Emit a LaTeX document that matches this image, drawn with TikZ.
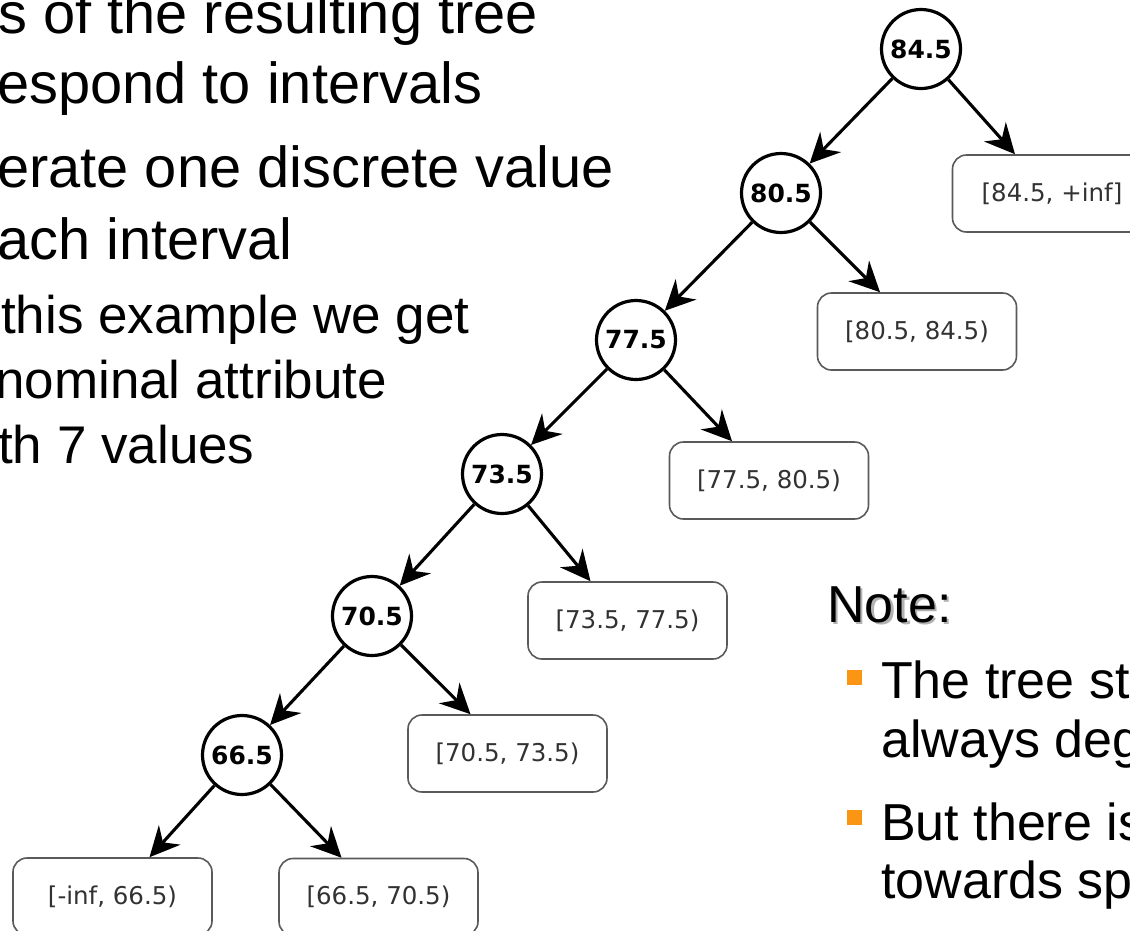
\documentclass[tikz,border=0pt]{standalone}
\usepackage{fontspec}
\setmainfont{Liberation Sans}
\newfontfamily\dejavu{DejaVu Sans}
\usetikzlibrary{arrows.meta}
\definecolor{bulletorange}{RGB}{250,150,20}
\definecolor{boxline}{RGB}{90,90,90}
\definecolor{boxtext}{RGB}{50,50,50}
\begin{document}
\begin{tikzpicture}[x=1pt,y=-1pt,
  split/.style={circle,draw=black,line width=3.2pt,minimum size=79pt,inner sep=0pt,
    font=\dejavu\bfseries\fontsize{25}{27}\selectfont},
  leaf/.style={rectangle,rounded corners=14pt,draw=boxline,line width=1.6pt,
    minimum width=199pt,minimum height=77pt,inner sep=0pt,text=boxtext,
    font=\dejavu\fontsize{24.5}{28}\selectfont},
  arr/.style={line width=3.1pt,-{Stealth[length=30pt,width=29pt,inset=10pt]}},
  big/.style={anchor=base west,inner sep=0pt,font=\fontsize{57.8}{60}\selectfont},
  mid/.style={anchor=base west,inner sep=0pt,font=\fontsize{52}{56}\selectfont},
  sub/.style={anchor=base west,inner sep=0pt,font=\fontsize{53}{56}\selectfont},
  bul/.style={rectangle,fill=bulletorange,inner sep=0pt,minimum size=15.5pt}
]
\useasboundingbox (0,0) rectangle (1130,930);
\clip (0,0) rectangle (1130,930);
\fill[white] (0,0) rectangle (1130,930);

% left text
\node[big] (t1) at (-2,33) {s of the resulting tree};
\node[big] (t2) at (-3,103) {espond to intervals};
\node[big] (t3) at (-3,187) {erate one discrete value};
\node[big] (t4) at (-3,259) {ach interval};
\node[sub] (t5) at (1,333) {this example we get};
\node[sub] (t6) at (-5,398) {nominal attribute};
\node[sub] (t7) at (-2,463) {th 7 values};

% split nodes
\node[split] (n845) at (921,49) {84.5};
\node[split] (n805) at (781,193) {80.5};
\node[split] (n775) at (636,340) {77.5};
\node[split] (n735) at (502,474) {73.5};
\node[split] (n705) at (372,616) {70.5};
\node[split] (n665) at (242,755) {66.5};

% leaves
\node[leaf] (l845) at (1052,193.5) {[84.5, +inf]};
\node[leaf] (l805) at (917,331.5) {[80.5, 84.5)};
\node[leaf] (l775) at (769,480.5) {[77.5, 80.5)};
\node[leaf] (l735) at (627.5,620.5) {[73.5, 77.5)};
\node[leaf] (l705) at (507.5,753.5) {[70.5, 73.5)};
\node[leaf] (l665) at (378.5,897) {[66.5, 70.5)};
\node[leaf] (linf) at (112.5,896.5) {[-inf, 66.5)};

% connectors
\draw[arr] (n845) -- (n805);
\draw[arr] (n845) -- ([xshift=-37pt]l845.north);
\draw[arr] (n805) -- (n775);
\draw[arr] (n805) -- ([xshift=-37pt]l805.north);
\draw[arr] (n775) -- (n735);
\draw[arr] (n775) -- ([xshift=-37pt]l775.north);
\draw[arr] (n735) -- (n705);
\draw[arr] (n735) -- ([xshift=-37pt]l735.north);
\draw[arr] (n705) -- (n665);
\draw[arr] (n705) -- ([xshift=-37pt]l705.north);
\draw[arr] (n665) -- ([xshift=37pt]linf.north);
\draw[arr] (n665) -- ([xshift=-37pt]l665.north);

% note
\node[mid,text=black!30] (noteshadow) at (829.5,624.5) {Note:};
\node[mid] (note) at (827,622) {Note:};
\node[bul] (b1) at (854.5,677.5) {};
\node[bul] (b2) at (854.5,817.5) {};
\node[mid] (s1) at (881,698) {The tree st};
\node[mid] (s2) at (881,757) {always deg};
\node[mid] (s3) at (881,840) {But there is};
\node[mid] (s4) at (881,898) {towards sp};
\end{tikzpicture}
\end{document}
